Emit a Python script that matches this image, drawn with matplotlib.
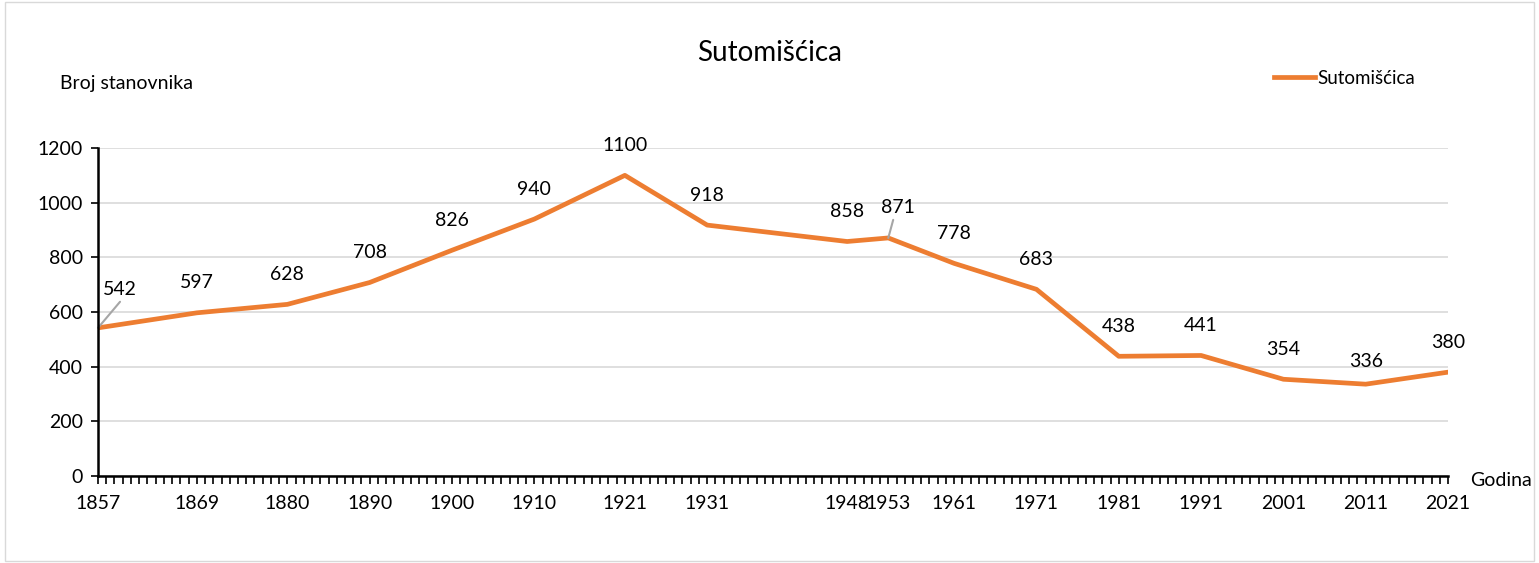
import matplotlib
matplotlib.use("Agg")
import matplotlib.pyplot as plt
from matplotlib.ticker import MultipleLocator
from matplotlib.patches import Rectangle

plt.rcParams["font.family"] = ["Lato", "DejaVu Sans"]

years = [1857, 1869, 1880, 1890, 1900, 1910, 1921, 1931, 1948, 1953,
         1961, 1971, 1981, 1991, 2001, 2011, 2021]
population = [542, 597, 628, 708, 826, 940, 1100, 918, 858, 871,
              778, 683, 438, 441, 354, 336, 380]
series_name = "Sutomišćica"

ORANGE = "#ED7D31"
FS = 14

fig = plt.figure(figsize=(15.39, 5.63), dpi=100)
fig.patches.append(Rectangle((0.003, 0.004), 0.994, 0.992, transform=fig.transFigure,
                             fill=False, edgecolor="#d9d9d9", linewidth=1))
ax = fig.add_axes([0.0637, 0.1545, 0.8772, 0.5826])

ax.plot(years, population, color=ORANGE, linewidth=3.4, solid_joinstyle="round",
        label=series_name, zorder=3)

# data labels, offsets in pixels
for x, y in zip(years, population):
    if x == 1857:
        ax.annotate(str(y), (x, y), xytext=(22, 38), textcoords="offset pixels",
                    ha="center", va="center", fontsize=FS,
                    arrowprops=dict(arrowstyle="-", color="#a6a6a6", lw=1.5,
                                    relpos=(0.5, -0.2), shrinkA=0, shrinkB=0))
    elif x == 1953:
        ax.annotate(str(y), (x, y), xytext=(10, 30), textcoords="offset pixels",
                    ha="center", va="center", fontsize=FS,
                    arrowprops=dict(arrowstyle="-", color="#a6a6a6", lw=1.5,
                                    relpos=(0.35, -0.2), shrinkA=0, shrinkB=0))
    else:
        dy = 23 if x == 2011 else 30
        ax.annotate(str(y), (x, y), xytext=(0, dy), textcoords="offset pixels",
                    ha="center", va="center", fontsize=FS)

ax.set_xlim(1857, 2021)
ax.set_ylim(0, 1200)
ax.set_xticks(years)
ax.set_xticklabels([str(y) for y in years])
ax.xaxis.set_minor_locator(MultipleLocator(1))
ax.set_yticks(range(0, 1201, 200))
ax.tick_params(axis="x", which="both", direction="out", length=6, width=1.2,
               color="black", labelsize=FS, pad=8)
ax.tick_params(axis="y", direction="out", length=5, width=1.2, color="black",
               labelsize=FS, pad=6)
ax.grid(axis="y", color="#d9d9d9", linewidth=1.2, zorder=0)
ax.set_axisbelow(True)
for s in ("top", "right"):
    ax.spines[s].set_visible(False)
for s in ("left", "bottom"):
    ax.spines[s].set_linewidth(1.8)
    ax.spines[s].set_zorder(4)

fig.text(0.5, 0.905, series_name, ha="center", va="center", fontsize=20)
fig.text(0.039, 0.851, "Broj stanovnika", ha="left", va="center", fontsize=FS)
fig.text(0.955, 0.146, "Godina", ha="left", va="center", fontsize=FS)

ax.legend(loc="center left", bbox_to_anchor=(0.823, 0.861), bbox_transform=fig.transFigure,
          frameon=False, fontsize=13.5, handlelength=2.2, handletextpad=0.1,
          borderaxespad=0)

fig.savefig("out.png", dpi=100)
